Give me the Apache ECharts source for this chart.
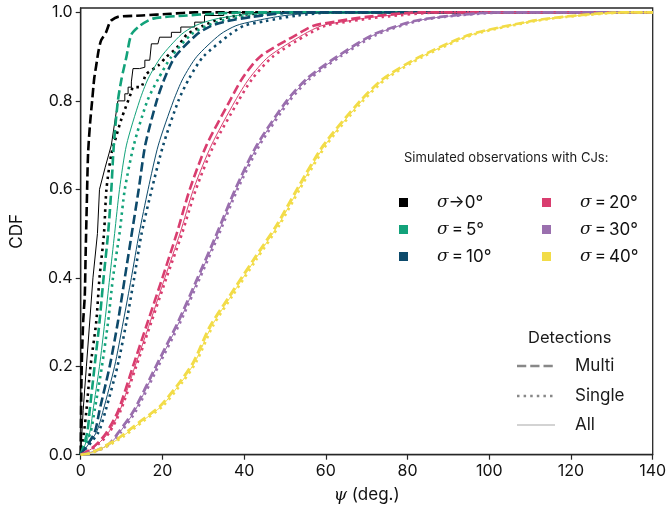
<!DOCTYPE html>
<html>
<head>
<meta charset="utf-8">
<script src="https://cdn.jsdelivr.net/npm/echarts@6/dist/echarts.min.js"></script>
<style>
  html, body { margin: 0; padding: 0; background: #fff; }
  #chart { width: 671px; height: 521px; }
</style>
</head>
<body>
<div id="chart"></div>
<script>
// Cumulative distributions of psi, as [psi (deg), CDF] pairs.
// sigma -> 0
const sig0Multi = [[0,0],[0.1,0.1],[0.25,0.2],[0.6,0.3],[1.0,0.36],[1.2,0.45],[1.5,0.57],[1.8,0.68],[2.3,0.75],[2.8,0.8],[3.3,0.85],[3.8,0.88],[4.4,0.915],[5.0,0.937],[6.2,0.955],[7.0,0.975],[7.5,0.982],[9.1,0.99],[15,0.993],[22,0.997],[28,1],[140,1]];
const sig0Single = [[0,0],[0.8,0.05],[1.4,0.1],[2.4,0.2],[3.8,0.3],[4.6,0.4],[5.7,0.5],[6.3,0.6],[7.5,0.68],[8.7,0.72],[10,0.76],[12.4,0.82],[12.8,0.831],[14.7,0.831],[16,0.86],[19,0.88],[21,0.9],[23.5,0.92],[26,0.95],[30,0.97],[34,0.985],[40,0.995],[48,1],[140,1]];
const sig0All = [[0,0],[0.6,0.1],[1.4,0.2],[2.2,0.3],[3.0,0.4],[4.1,0.5],[4.6,0.6],[6.0,0.65],[7.5,0.7],[8.3,0.75],[9.1,0.8],[10.8,0.8],[10.8,0.816],[11.6,0.816],[11.6,0.831],[12.4,0.831],[12.4,0.843],[12.8,0.843],[12.8,0.873],[14.4,0.873],[14.4,0.876],[15.7,0.876],[15.7,0.892],[16.9,0.892],[16.9,0.895],[17.3,0.895],[17.3,0.929],[18.9,0.929],[18.9,0.933],[19.3,0.933],[19.3,0.944],[22.2,0.944],[22.2,0.955],[24.5,0.955],[24.5,0.967],[27.9,0.967],[27.9,0.978],[30.3,0.978],[30.3,0.993],[35,0.993],[35,1],[140,1]];
// sigma = 5
const sig5Multi = [[0,0],[1.6,0.05],[2.2,0.1],[3.4,0.2],[4.6,0.3],[5.6,0.4],[6.7,0.5],[7.5,0.6],[8.1,0.7],[9.1,0.8],[10.0,0.85],[11.2,0.9],[12.4,0.95],[14.5,0.97],[17.7,0.986],[25.9,0.993],[32.4,0.997],[41,1],[140,1]];
const sig5Single = [[0,0],[2.4,0.05],[3.4,0.1],[5.2,0.2],[6.7,0.3],[7.9,0.4],[9.5,0.5],[10.8,0.6],[13.0,0.7],[16.3,0.8],[19,0.85],[22.2,0.9],[27,0.95],[31,0.97],[36,0.985],[45,0.995],[55,1],[140,1]];
const sig5All = [[0,0],[2.2,0.05],[3.0,0.1],[4.6,0.2],[5.9,0.3],[7.1,0.4],[8.3,0.5],[9.5,0.6],[11.2,0.7],[14.4,0.8],[16.5,0.85],[19.7,0.9],[24.6,0.95],[28,0.97],[33,0.985],[40,0.995],[50,1],[140,1]];
// sigma = 10
const sig10Multi = [[0,0],[3.4,0.05],[4.6,0.1],[7.1,0.2],[9.1,0.3],[10.8,0.4],[12.5,0.5],[14.2,0.6],[15.8,0.7],[18.6,0.8],[20.5,0.85],[23.1,0.9],[28.4,0.95],[32,0.97],[35.7,0.98],[42,0.99],[52,1],[140,1]];
const sig10Single = [[0,0],[4.3,0.05],[6.1,0.1],[9.0,0.2],[11.2,0.3],[13.1,0.4],[14.9,0.5],[17.4,0.6],[20.2,0.7],[23.9,0.8],[26.5,0.85],[30,0.9],[36.5,0.95],[40,0.97],[45,0.98],[53,0.993],[62,1],[140,1]];
const sig10All = [[0,0],[3.8,0.05],[5.5,0.1],[8.3,0.2],[10.4,0.3],[12.4,0.4],[14.3,0.5],[16.5,0.6],[19,0.7],[22.7,0.8],[25,0.85],[28.4,0.9],[34.1,0.95],[38,0.97],[42.2,0.98],[50,0.993],[60,1],[140,1]];
// sigma = 20
const sig20Multi = [[0,0],[2,0.01],[4,0.025],[6.3,0.05],[9.2,0.1],[12.8,0.2],[16.4,0.3],[20.0,0.4],[23.5,0.5],[26.7,0.6],[30.8,0.7],[36.5,0.8],[39.5,0.85],[43.9,0.9],[52.9,0.95],[57,0.97],[62.7,0.98],[70,0.99],[83,1],[140,1]];
const sig20Single = [[0,0],[2.2,0.01],[4.5,0.025],[7.0,0.05],[9.8,0.1],[13.6,0.2],[17.3,0.3],[21.0,0.4],[24.8,0.5],[28.2,0.6],[32.6,0.7],[38.6,0.8],[42,0.85],[47,0.9],[55.5,0.95],[60,0.97],[66,0.98],[74,0.99],[88,1],[140,1]];
const sig20All = [[0,0],[2.1,0.01],[4.3,0.025],[6.8,0.05],[9.6,0.1],[13.3,0.2],[17.0,0.3],[20.6,0.4],[24.3,0.5],[27.6,0.6],[32.0,0.7],[37.8,0.8],[41.2,0.85],[46,0.9],[54.5,0.95],[59,0.97],[65,0.98],[72,0.99],[86,1],[140,1]];
// sigma = 30
const sig30Multi = [[0,0],[4,0.01],[7,0.025],[9.2,0.05],[13.0,0.1],[18.4,0.2],[23.8,0.3],[28.6,0.4],[33.3,0.5],[37.8,0.6],[43.1,0.7],[50.4,0.8],[55.3,0.85],[62.7,0.9],[71.6,0.95],[81.3,0.98],[88,0.99],[102,1],[140,1]];
const sig30Single = [[0,0],[4.3,0.01],[7.5,0.025],[9.8,0.05],[13.6,0.1],[19.0,0.2],[24.4,0.3],[29.2,0.4],[33.9,0.5],[38.4,0.6],[43.8,0.7],[51.1,0.8],[56.1,0.85],[63.5,0.9],[72.5,0.95],[82.3,0.98],[89,0.99],[104,1],[140,1]];
const sig30All = [[0,0],[4.1,0.01],[7.2,0.025],[9.5,0.05],[13.3,0.1],[18.7,0.2],[24.1,0.3],[28.9,0.4],[33.6,0.5],[38.1,0.6],[43.4,0.7],[50.7,0.8],[55.7,0.85],[63.1,0.9],[72.0,0.95],[81.8,0.98],[88.5,0.99],[103,1],[140,1]];
// sigma = 40
const sig40Multi = [[0,0],[2,0.003],[5,0.015],[9.6,0.04],[14.5,0.075],[19.4,0.11],[24.3,0.165],[27.6,0.21],[31.6,0.29],[36.5,0.36],[42.2,0.44],[48.0,0.52],[52.9,0.6],[59.4,0.7],[68.4,0.8],[74,0.85],[83,0.9],[95.3,0.95],[110,0.98],[118,0.99],[132,1],[140,1]];
const sig40Single = [[0,0],[2.3,0.003],[5.6,0.015],[10.3,0.04],[15.2,0.075],[20.1,0.11],[25.0,0.165],[28.3,0.21],[32.3,0.29],[37.2,0.36],[42.9,0.44],[48.7,0.52],[53.6,0.6],[60.1,0.7],[69.1,0.8],[74.8,0.85],[83.8,0.9],[96.2,0.95],[111,0.98],[119,0.99],[134,1],[140,1]];
const sig40All = [[0,0],[2.1,0.003],[5.3,0.015],[10.0,0.04],[14.9,0.075],[19.8,0.11],[24.7,0.165],[28.0,0.21],[32.0,0.29],[36.9,0.36],[42.6,0.44],[48.4,0.52],[53.3,0.6],[59.8,0.7],[68.8,0.8],[74.4,0.85],[83.4,0.9],[95.8,0.95],[110.5,0.98],[118.5,0.99],[133,1],[140,1]];

const sigmaLabels = ['→0', '=5', '=10', '=20', '=30', '=40'];
const sigmaColors = ['#000000', '#12a27a', '#0d4a6b', '#d93d6f', '#9a6fae', '#f2dc48'];
const curves = [
  [sig0Multi, sig0Single, sig0All],
  [sig5Multi, sig5Single, sig5All],
  [sig10Multi, sig10Single, sig10All],
  [sig20Multi, sig20Single, sig20All],
  [sig30Multi, sig30Single, sig30All],
  [sig40Multi, sig40Single, sig40All]
];
const detectionLabels = ['Multi', 'Single', 'All'];
const xTicks = [0, 20, 40, 60, 80, 100, 120, 140];
const yTicks = [0, 0.2, 0.4, 0.6, 0.8, 1.0];

const FONT = 'Inter, "DejaVu Sans", sans-serif';
const dashStyles = [[9.25, 4], [2.5, 4.1], 'solid'];
const widths = [2.6, 2.6, 1.0];

const series = [];
curves.forEach((group, si) => {
  group.forEach((data, di) => {
    // the sigma->0 "All" curve is an empirical step function: keep it unsmoothed
    const stepLike = (si === 0 && di === 2);
    series.push({
      type: 'line',
      name: 'sigma' + sigmaLabels[si] + ' ' + detectionLabels[di],
      data: data,
      showSymbol: false,
      symbol: 'none',
      silent: true,
      smooth: stepLike ? false : 0.25,
      lineStyle: {
        color: sigmaColors[si],
        width: widths[di],
        type: dashStyles[di],
        cap: 'butt',
        join: 'miter'
      },
      z: 2
    });
  });
});

const chart = echarts.init(document.getElementById('chart'), null, { renderer: 'canvas' });

// legend drawn as graphic elements
const graphics = [];
graphics.push({
  type: 'text', left: 404, top: 152,
  style: { text: 'Simulated observations with CJs:', font: '13px ' + FONT, fill: '#1a1a1a' }
});
const colX = [399, 542];
const labX = [437, 580];
const rowY = [202.5, 229.5, 256.5];
sigmaLabels.forEach((lab, i) => {
  const col = Math.floor(i / 3), row = i % 3;
  graphics.push({
    type: 'rect',
    shape: { x: colX[col], y: rowY[row] - 4.5, width: 9, height: 9 },
    style: { fill: sigmaColors[i] }
  });
  graphics.push({
    type: 'text', x: labX[col], y: rowY[row],
    style: {
      text: '{s|σ}{t|' + lab.replace('=', '\u2009=\u2009') + '°}',
      textVerticalAlign: 'middle',
      rich: {
        s: { font: 'italic 17px "DejaVu Serif", serif', fill: '#111' },
        t: { font: '17px ' + FONT, fill: '#111' }
      }
    }
  });
});
graphics.push({
  type: 'text', x: 528, y: 338,
  style: { text: 'Detections', font: '16.5px ' + FONT, fill: '#1a1a1a', textVerticalAlign: 'middle' }
});
const detY = [366, 396, 425];
detectionLabels.forEach((lab, i) => {
  graphics.push({
    type: 'line',
    shape: { x1: 517, y1: detY[i], x2: 555, y2: detY[i] },
    style: { stroke: i === 2 ? '#a8a8a8' : '#888888', lineWidth: i === 2 ? 1.2 : 2.5, lineDash: i === 2 ? null : dashStyles[i], lineCap: 'butt' }
  });
  graphics.push({
    type: 'text', x: 575, y: detY[i],
    style: { text: lab, font: '17px ' + FONT, fill: '#1a1a1a', textVerticalAlign: 'middle' }
  });
});

chart.setOption({
  animation: false,
  backgroundColor: '#ffffff',
  grid: {
    left: 80.7, right: 18.3, top: 8, bottom: 66.3,
    show: true, borderColor: '#262626', borderWidth: 1.3, backgroundColor: 'transparent'
  },
  xAxis: {
    type: 'value', min: 0, max: 140, interval: 20,
    name: '{p|ψ} (deg.)', nameLocation: 'middle', nameGap: 32,
    nameTextStyle: {
      fontFamily: FONT, fontSize: 17, color: '#111',
      rich: { p: { fontFamily: '"DejaVu Serif", serif', fontStyle: 'italic', fontSize: 17, color: '#111' } }
    },
    axisLine: { show: true, lineStyle: { color: '#262626', width: 1.3 } },
    axisTick: { show: true, inside: false, length: 5, lineStyle: { color: '#262626', width: 1.2 }, customValues: xTicks },
    axisLabel: { fontFamily: FONT, fontSize: 16, color: '#111', margin: 8, customValues: xTicks },
    splitLine: { show: false }
  },
  yAxis: {
    type: 'value', min: 0, max: 1.01,
    name: 'CDF', nameLocation: 'middle', nameGap: 55,
    nameTextStyle: { fontFamily: FONT, fontSize: 17, color: '#111' },
    axisLine: { show: true, lineStyle: { color: '#262626', width: 1.3 } },
    axisTick: { show: true, inside: false, length: 5, lineStyle: { color: '#262626', width: 1.2 }, customValues: yTicks },
    axisLabel: { fontFamily: FONT, fontSize: 16, color: '#111', margin: 8, customValues: yTicks, formatter: v => v.toFixed(1) },
    splitLine: { show: false }
  },
  series: series,
  graphic: graphics
});
</script>
</body>
</html>
